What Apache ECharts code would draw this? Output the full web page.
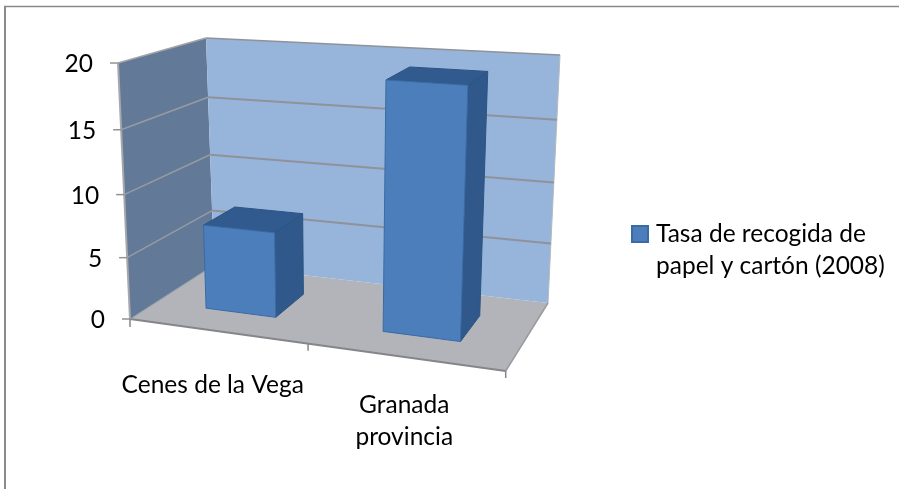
<!DOCTYPE html>
<html lang="es" style="height: 100%;margin: 0;">
<head>
    <meta charset="UTF-8">
    <title>Tasa de recogida</title>
    <script src="https://cdn.jsdelivr.net/npm/echarts@6/dist/echarts.min.js"></script>
</head>
<body style="height: 100%;margin: 0;background: #fff;">
<div id="chart" style="width: 899px;height: 489px;"></div>
<script>
    var categories = ['Cenes de la Vega', 'Granada\nprovincia'];
    var seriesName = 'Tasa de recogida de\npapel y cartón (2008)';
    var values = [6.9, 19.3];
    var yTicks = [0, 5, 10, 15, 20];

    // where the corners of the box land on screen: front/back, left/right, bottom/top
    var box = {
        flb: [130, 319], frb: [505.7, 371], blb: [214, 265], brb: [548, 303],
        flt: [118, 63], frt: [516.6, 91], blt: [206, 38], brt: [560, 55]
    };
    var keepU = 0.11, keepV = 0.058;
    var barFront = 0.32, barBack = 0.713, barWidth = 0.203;
    var labelShift = [[-4, 38], [0, 32]];
    var font = 'Lato';

    function mix(a, b, t) {
        return [a[0] + (b[0] - a[0]) * t, a[1] + (b[1] - a[1]) * t];
    }

    // u, v are 0..1 on the flat grid, d is depth into the box
    function project(u, d, v) {
        var gu = u / (1 + keepU * (1 - u));
        var gv = v / (1 + keepV * (1 - v));
        var bottom = mix(mix(box.flb, box.frb, gu), mix(box.blb, box.brb, gu), d);
        var top = mix(mix(box.flt, box.frt, gu), mix(box.blt, box.brt, gu), d);
        return mix(bottom, top, gv);
    }

    function flat(params, api, x, y) {
        var p = api.coord([x, y]);
        var cs = params.coordSys;
        return [(p[0] - cs.x) / cs.width, (cs.y + cs.height - p[1]) / cs.height];
    }

    function poly(points, fill, stroke, lineWidth) {
        return {
            type: 'polygon',
            shape: {points: points},
            style: {fill: fill, stroke: stroke || null, lineWidth: lineWidth || 0}
        };
    }

    function line(a, b, color, width) {
        return {
            type: 'line',
            shape: {x1: a[0], y1: a[1], x2: b[0], y2: b[1]},
            style: {stroke: color, lineWidth: width, fill: null}
        };
    }

    function label(pos, text, align, verticalAlign) {
        return {
            type: 'text',
            style: {
                x: pos[0], y: pos[1], text: text, align: align, verticalAlign: verticalAlign,
                font: '24.5px ' + font, fill: '#000', lineHeight: 32
            }
        };
    }

    function renderWalls(params, api) {
        var children = [
            poly([project(0, 0, 0), project(0, 1, 0), project(1, 1, 0), project(1, 0, 0)], '#b3b4b9'),
            poly([project(0, 0, 0), project(0, 0, 1), project(0, 1, 1), project(0, 1, 0)], '#627a98'),
            poly([project(0, 1, 0), project(0, 1, 1), project(1, 1, 1), project(1, 1, 0)], '#97b4da')
        ];
        children.push(line(project(0, 0, 0), project(0, 0, 1), '#a6a8ab', 2));
        children.push(line(project(1, 1, 0), project(1, 1, 1), '#b5b9bf', 1));
        children.push(line(project(0, 0, 0), project(1, 0, 0), '#85868a', 2));
        children.push(line(project(1, 0, 0), project(1, 1, 0), '#9a9b9f', 1.5));
        children.push(line(project(0, 0, 0), project(0, 1, 0), '#8d99a8', 1));
        return {type: 'group', children: children};
    }

    function renderYAxis(params, api) {
        var tick = api.value(1);
        var v = flat(params, api, 0, tick)[1];
        var front = project(0, 0, v);
        var back = project(0, 1, v);
        var right = project(1, 1, v);
        var children = [line([front[0] - 8, front[1]], front, '#939393', 1.5)];
        if (v > 0) {
            children.push(line(front, back, v === 1 ? '#a3a3a6' : '#969ba2', 1.5));
            children.push(line(back, right, '#8f9299', v === 1 ? 1.5 : 2));
        }
        children.push(label([front[0] - 25, front[1] + 1], String(tick), 'right', 'middle'));
        return {type: 'group', children: children};
    }

    function renderXAxis(params, api) {
        var i = api.value(0);
        var children = [];
        var u = (i + 1) / categories.length;
        var base = project(0, 0, 0);
        if (i === 0) {
            children.push(line(base, [base[0], base[1] + 8], '#85868a', 1.5));
        }
        var tick = project(u, 0, 0);
        children.push(line(tick, [tick[0], tick[1] + 7], '#85868a', 1.5));
        var mid = project((i + 0.5) / categories.length, 0, 0);
        children.push(label([mid[0] + labelShift[i][0], mid[1] + labelShift[i][1]], categories[i], 'center', 'top'));
        return {type: 'group', children: children};
    }

    function renderBar(params, api) {
        var i = api.value(0);
        var top = flat(params, api, i, api.value(1))[1];
        var c = flat(params, api, i, 0)[0];
        var a = c - barWidth / 2;
        var b = c + barWidth / 2;
        var f = barFront, k = barBack;
        var edge = '#3a6ba5';
        return {
            type: 'group',
            children: [
                poly([project(b, f, 0), project(b, f, top), project(b, k, top), project(b, k, 0)], '#30588a', '#2c5482', 1),
                poly([project(a, f, top), project(a, k, top), project(b, k, top), project(b, f, top)], '#315b8f', '#2c5482', 1),
                poly([project(a, f, 0), project(a, f, top), project(b, f, top), project(b, f, 0)], '#4c7ebb', edge, 1)
            ]
        };
    }

    var myChart = echarts.init(document.getElementById('chart'), null, {renderer: 'canvas'});
    myChart.setOption({
        animation: false,
        backgroundColor: '#fff',
        grid: {left: 130, right: 350, top: 60, bottom: 170},
        xAxis: {type: 'category', data: categories, show: false},
        yAxis: {type: 'value', min: 0, max: 20, interval: 5, show: false},
        legend: {
            left: 626,
            top: 212,
            orient: 'vertical',
            // swatch sits on the first text line, the empty points only stretch the icon box
            icon: 'path://M0,8H16V24H0Z M19,0L19,0 M0,64L0,64',
            itemWidth: 19,
            itemHeight: 64,
            itemGap: 0,
            data: [seriesName],
            selectedMode: false,
            textStyle: {fontFamily: font, fontSize: 24.5, color: '#000', lineHeight: 32}
        },
        series: [
            {type: 'custom', silent: true, z: 1, renderItem: renderWalls, data: [[0, 0]]},
            {
                type: 'custom', silent: true, z: 2, renderItem: renderYAxis,
                data: yTicks.map(function (t) {
                    return [0, t];
                })
            },
            {
                type: 'custom', silent: true, z: 2, renderItem: renderXAxis,
                data: categories.map(function (c, i) {
                    return [i, 0];
                })
            },
            {
                type: 'custom',
                name: seriesName,
                z: 3,
                itemStyle: {color: '#4c7ebb', borderColor: '#3a6ba5', borderWidth: 1},
                renderItem: renderBar,
                encode: {x: 0, y: 1},
                data: values.map(function (v, i) {
                    return [i, v];
                })
            }
        ],
        graphic: [
            {type: 'line', silent: true, shape: {x1: 4, y1: 6.5, x2: 899, y2: 6.5}, style: {stroke: '#8a8a8a', lineWidth: 1.5}},
            {type: 'line', silent: true, shape: {x1: 5, y1: 6, x2: 5, y2: 489}, style: {stroke: '#8a8a8a', lineWidth: 2}}
        ]
    });
</script>
</body>
</html>
